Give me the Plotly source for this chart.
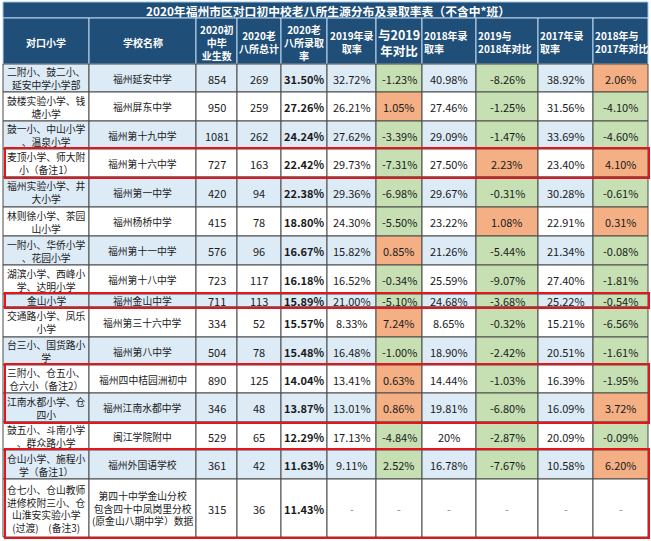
import plotly.graph_objects as go

title_text = "2020年福州市区对口初中校老八所生源分布及录取率表（不含中*班）"

header_labels = [
    "对口小学", "学校名称", "2020初<br>中毕<br>业生数", "2020老<br>八所总计",
    "2020老<br>八所录取<br>率", "2019年录<br>取率", "与2019<br>年对比", "2018年录<br>取率",
    "2019与<br>2018年对比", "2017年录<br>取率", "2018年与<br>2017年对比",
]

primary_schools = [
    "二附小、鼓二小、<br>延安中学小学部",
    "鼓楼实验小学、钱<br>塘小学",
    "鼓一小、中山小学<br>、温泉小学",
    "麦顶小学、师大附<br>小（备注1）",
    "福州实验小学、井<br>大小学",
    "林则徐小学、茶园<br>山小学",
    "一附小、华侨小学<br>、花园小学",
    "湖滨小学、西峰小<br>学、达明小学",
    "金山小学",
    "交通路小学、凤乐<br>小学",
    "台三小、国货路小<br>学",
    "三附小、仓五小、<br>仓六小（备注2）",
    "江南水都小学、仓<br>四小",
    "鼓五小、斗南小学<br>、群众路小学",
    "仓山小学、施程小<br>学（备注1）",
    "仓七小、仓山教师<br>进修校附三小、仓<br>山淮安实验小学<br>(过渡)　(备注3)",
]
middle_schools = [
    "福州延安中学", "福州屏东中学", "福州第十九中学", "福州第十六中学", "福州第一中学",
    "福州杨桥中学", "福州第十一中学", "福州第十八中学", "福州金山中学", "福州第三十六中学",
    "福州第八中学", "福州四中桔园洲初中", "福州江南水都中学", "闽江学院附中", "福州外国语学校",
    "第四十中学金山分校<br>包含四十中凤岗里分校<br>(原金山八期中学）数据",
]
graduates = [854, 950, 1081, 727, 420, 415, 576, 723, 711, 334, 504, 890, 346, 529, 361, 315]
admitted = [269, 259, 262, 163, 94, 78, 96, 117, 113, 52, 78, 125, 48, 65, 42, 36]
rate_2020 = [31.50, 27.26, 24.24, 22.42, 22.38, 18.80, 16.67, 16.18, 15.89, 15.57, 15.48,
             14.04, 13.87, 12.29, 11.63, 11.43]
rate_2019 = [32.72, 26.21, 27.62, 29.73, 29.36, 24.30, 15.82, 16.52, 21.00, 8.33, 16.48,
             13.41, 13.01, 17.13, 9.11, None]
diff_vs_2019 = [-1.23, 1.05, -3.39, -7.31, -6.98, -5.50, 0.85, -0.34, -5.10, 7.24, -1.00,
                0.63, 0.86, -4.84, 2.52, None]
rate_2018 = [40.98, 27.46, 29.09, 27.50, 29.67, 23.22, 21.26, 25.59, 24.68, 8.65, 18.90,
             14.44, 19.81, "20%", 16.78, None]
diff_19_vs_18 = [-8.26, -1.25, -1.47, 2.23, -0.31, 1.08, -5.44, -9.07, -3.68, -0.32, -2.42,
                 -1.03, -6.80, -2.87, -7.67, None]
rate_2017 = [38.92, 31.56, 33.69, 23.40, 30.28, 22.91, 21.34, 27.40, 25.22, 15.21, 20.51,
             16.39, 16.09, 20.09, 10.58, None]
diff_18_vs_17 = [2.06, -4.10, -4.60, 4.10, -0.61, 0.31, -0.08, -1.81, -0.54, -6.56, -1.61,
                 -1.95, 3.72, -0.09, 6.20, None]

# rows boxed in red in the original (0-based)
boxed_rows = [[3], [8], [11, 12], [14, 15]]

# ---- layout / style ----
W, H = 651, 541
col_edges = [3, 89, 196, 237, 281, 327, 376, 422, 476, 538, 593, 648]
title_top, header_top, body_top = 2, 18, 64
row_heights = [28, 29, 28, 28, 30, 29, 29, 29, 13, 30, 28, 28, 29, 28, 29, 58]

DARK = "#1F4E78"
STRIPE = "#DDEBF7"
GREEN = "#C6E0B4"
ORANGE = "#F4B084"
BORDER = "#4a4a4a"
FONT = "Noto Sans CJK SC"
diff_cols = {6, 8, 10}
left_header_cols = {7, 8, 9, 10}
green_exceptions = {(14, 6)}  # 2.52% is shaded green in the source


def pct(v):
    if v is None:
        return "-"
    if isinstance(v, str):
        return v
    return f"{v:.2f}%"


columns = [
    primary_schools, middle_schools, [str(v) for v in graduates], [str(v) for v in admitted],
    [pct(v) for v in rate_2020], [pct(v) for v in rate_2019], [pct(v) for v in diff_vs_2019],
    [pct(v) for v in rate_2018], [pct(v) for v in diff_19_vs_18], [pct(v) for v in rate_2017],
    [pct(v) for v in diff_18_vs_17],
]
raw_diffs = {6: diff_vs_2019, 8: diff_19_vs_18, 10: diff_18_vs_17}

row_edges = [body_top]
for h in row_heights:
    row_edges.append(row_edges[-1] + h)

shapes = []
annotations = []

# title bar
shapes.append(dict(type="rect", x0=col_edges[0], x1=col_edges[-1], y0=title_top, y1=header_top,
                   fillcolor=DARK, line=dict(color="#9DC3E6", width=1), layer="below"))
annotations.append(dict(x=(col_edges[0] + col_edges[-1]) / 2 + 2, y=(title_top + header_top) / 2 + 0.5,
                        text=f"<b>{title_text}</b>", showarrow=False, borderpad=0,
                        font=dict(family=FONT, size=11.8, color="white")))

# header
for c, label in enumerate(header_labels):
    x0, x1 = col_edges[c], col_edges[c + 1]
    shapes.append(dict(type="rect", x0=x0, x1=x1, y0=header_top, y1=body_top,
                       fillcolor=DARK, line=dict(color="#BDD7EE", width=1), layer="below"))
    size = 12.5 if c == 6 else 10
    if c in left_header_cols:
        ann = dict(x=x0 + 1, xanchor="left", align="left")
    else:
        ann = dict(x=(x0 + x1) / 2, xanchor="center", align="center")
    ann.update(y=(header_top + body_top) / 2 + 1, yanchor="middle", text=f"<b>{label}</b>",
               showarrow=False, borderpad=0, font=dict(family=FONT, size=size, color="white"))
    annotations.append(ann)

# body cells
for r in range(len(primary_schools)):
    y0, y1 = row_edges[r], row_edges[r + 1]
    base = STRIPE if r % 2 == 0 else "white"
    for c, col in enumerate(columns):
        x0, x1 = col_edges[c], col_edges[c + 1]
        fill = base
        if c in diff_cols:
            v = raw_diffs[c][r]
            if v is None:
                fill = "white"
            elif v > 0 and (r, c) not in green_exceptions:
                fill = ORANGE
            else:
                fill = GREEN
        shapes.append(dict(type="rect", x0=x0, x1=x1, y0=y0, y1=y1, fillcolor=fill,
                           line=dict(color=BORDER, width=1), layer="below"))
        txt = col[r]
        is_cjk = c < 2
        color = "#888888" if txt == "-" else "#1a1a1a"
        if c == 4:
            txt = f"<b>{txt}</b>"
        annotations.append(dict(x=(x0 + x1) / 2, y=(y0 + y1) / 2 + 0.5, text=txt, showarrow=False,
                                xanchor="center", yanchor="middle", align="center", borderpad=0,
                                font=dict(family=FONT, size=9.8 if is_cjk else 11, color=color)))

# red highlight boxes
for group in boxed_rows:
    top = row_edges[group[0]]
    bottom = row_edges[group[-1] + 1]
    shapes.append(dict(type="rect", x0=col_edges[0] + 2, x1=col_edges[-1] + 1, y0=top - 1,
                       y1=bottom + 1, line=dict(color="#E8141B", width=2), fillcolor="rgba(0,0,0,0)"))

fig = go.Figure(go.Scatter(x=[0, W], y=[0, H], mode="markers", marker=dict(opacity=0),
                           hoverinfo="skip", showlegend=False))
fig.update_layout(
    width=W, height=H,
    margin=dict(l=0, r=0, t=0, b=0),
    paper_bgcolor="white", plot_bgcolor="white",
    xaxis=dict(range=[0, W], visible=False, fixedrange=True),
    yaxis=dict(range=[H, 0], visible=False, fixedrange=True),
    shapes=shapes, annotations=annotations,
)
# drop the browser's default 8px body margin so the table sits at the page corner
fig.write_html("out.html", config={"displayModeBar": False},
               post_script="document.body.style.margin='0';document.body.style.overflow='hidden';")
